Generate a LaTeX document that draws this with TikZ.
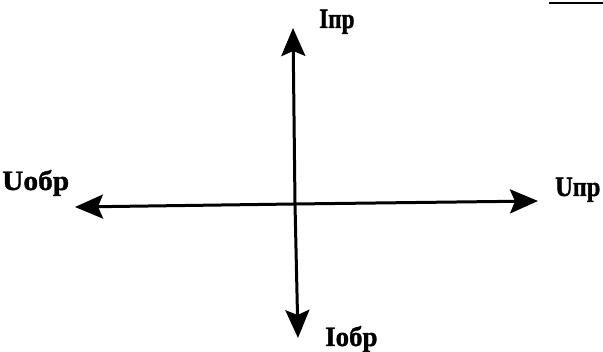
\documentclass[tikz,border=0pt]{standalone}
\usepackage{fontspec}
\setmainfont{Liberation Serif}
\newfontfamily\heavyfont[FakeBold=1.2]{Liberation Serif Bold}
\usetikzlibrary{arrows.meta}
\begin{document}
\begin{tikzpicture}[x=1pt,y=-1pt,
  axis/.style={line width=3pt,-{Stealth[length=28pt,width=24pt,inset=5pt]}},
  lbl/.style={font=\heavyfont\fontsize{28}{30}\selectfont,inner sep=0pt,anchor=base west}]
\useasboundingbox (0,0) rectangle (603,352);
\coordinate (O) at (295,204);
\coordinate (top) at (293,28);
\coordinate (bot) at (298,338);
\coordinate (left) at (75,207);
\coordinate (right) at (538,201);
\draw[axis] (O) -- (top);
\draw[axis] (O) -- (bot);
\draw[axis] (O) -- (left);
\draw[axis] (O) -- (right);
\node[lbl] (ipr) at (319,28) {\scalebox{0.83}[1]{Iпр}};
\node[lbl] (uobr) at (2,190) {\scalebox{1.05}[1]{Uобр}};
\node[lbl] (upr) at (555,196) {\scalebox{0.87}[1]{Uпр}};
\node[lbl] (iobr) at (325,346) {\scalebox{0.96}[1]{Iобр}};
\draw[line width=2.5pt] (549,3) -- (603,3);
\end{tikzpicture}
\end{document}
